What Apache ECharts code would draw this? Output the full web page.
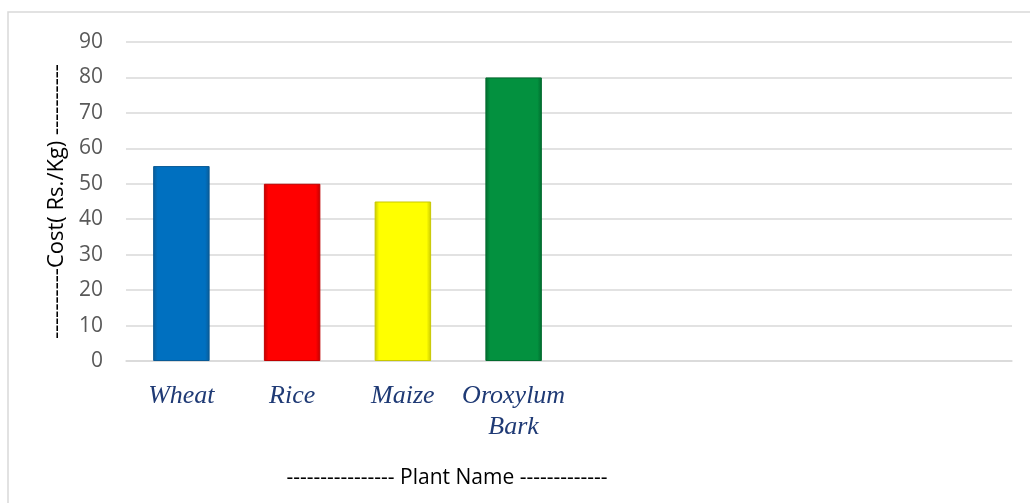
<!DOCTYPE html>
<html>
<head>
<meta charset="utf-8">
<script src="https://cdn.jsdelivr.net/npm/echarts@6/dist/echarts.min.js"></script>
<style>html,body{margin:0;padding:0;background:#fff}#c{width:1030px;height:503px}</style>
</head>
<body>
<div id="c"></div>
<script>
const categories = ['Wheat', 'Rice', 'Maize', 'Oroxylum\nBark', '', '', '', ''];
const costs = [55, 50, 45, 80];
const barColors = ['#0070C0', '#FF0000', '#FFFF00', '#03913F'];
const edgeColors = ['#0a5b96', '#c00000', '#c8c800', '#026b2e'];
const yTicks = {min: 0, max: 90, interval: 10};

function grad(c, e) {
  return new echarts.graphic.LinearGradient(0, 0, 1, 0, [
    {offset: 0, color: e}, {offset: 0.08, color: c}, {offset: 0.92, color: c}, {offset: 1, color: e}
  ]);
}

const chart = echarts.init(document.getElementById('c'));
chart.setOption({
  animation: false,
  backgroundColor: '#fff',
  grid: {left: 126, right: 18, top: 42, bottom: 142},
  graphic: [
    {type: 'polyline', shape: {points: [[8, 503], [8, 12], [1030, 12]]}, style: {stroke: '#d9d9d9', lineWidth: 1.5, fill: null}},
    {type: 'text', x: 447, y: 478, style: {text: '---------------- Plant Name -------------', align: 'center', verticalAlign: 'middle', font: '21px "Open Sans", "Liberation Sans", sans-serif', fill: '#000'}}
  ],
  xAxis: {
    type: 'category',
    data: categories,
    axisLine: {lineStyle: {color: '#d9d9d9', width: 1.5}},
    axisTick: {show: false},
    axisLabel: {interval: 0, margin: 20, fontFamily: '"Liberation Serif", "Times New Roman", serif', fontStyle: 'italic', fontSize: 26, color: '#1f3a75', lineHeight: 31}
  },
  yAxis: {
    type: 'value',
    min: yTicks.min, max: yTicks.max, interval: yTicks.interval,
    name: '----------Cost( Rs./Kg) ----------',
    nameLocation: 'middle',
    nameGap: 55,
    nameRotate: 90,
    nameTextStyle: {fontFamily: '"Open Sans", "Liberation Sans", sans-serif', fontSize: 22, color: '#000'},
    axisLine: {show: false},
    axisTick: {show: false},
    splitLine: {lineStyle: {color: '#d9d9d9', width: 1.5}},
    axisLabel: {margin: 23, fontFamily: '"Open Sans", "Liberation Sans", sans-serif', fontSize: 21, color: '#595959'}
  },
  series: [{
    type: 'bar',
    barWidth: '51%',
    data: costs.map((v, i) => ({value: v, itemStyle: {color: grad(barColors[i], edgeColors[i]), borderColor: edgeColors[i], borderWidth: 1}}))
  }]
});
</script>
</body>
</html>
